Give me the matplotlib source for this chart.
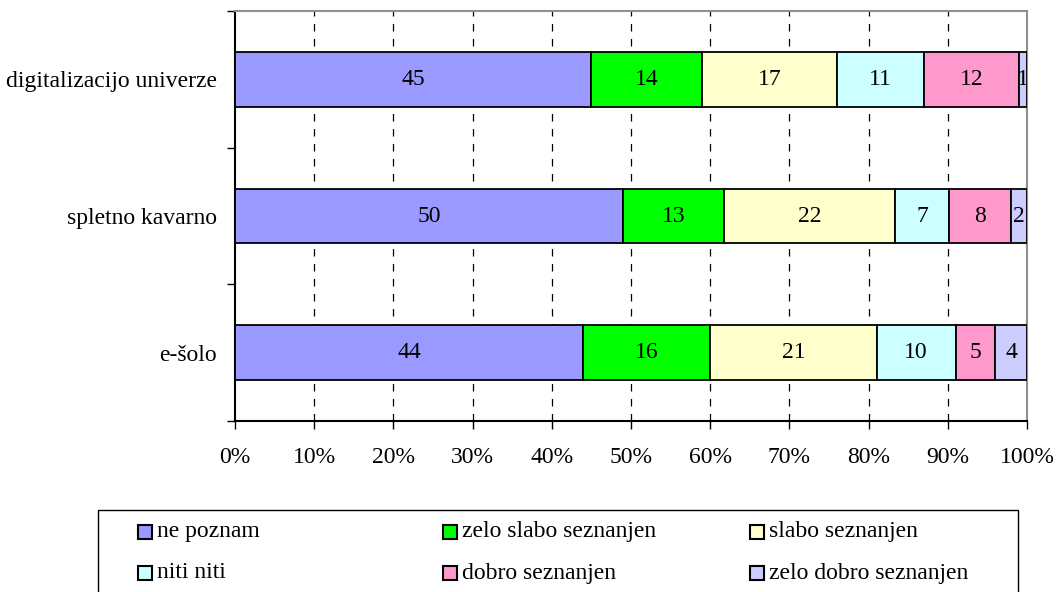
import numpy as np
import matplotlib
matplotlib.use('Agg')
from matplotlib import pyplot as plt
from matplotlib.patches import Rectangle

plt.rcParams['font.family'] = ['Liberation Serif', 'DejaVu Serif']
plt.rcParams['font.size'] = 17

# categories bottom -> top
categories = ['e-šolo', 'spletno kavarno', 'digitalizacijo univerze']
series = ['ne poznam', 'zelo slabo seznanjen', 'slabo seznanjen',
          'niti niti', 'dobro seznanjen', 'zelo dobro seznanjen']
values = [
    [44, 50, 45],   # ne poznam
    [16, 13, 14],   # zelo slabo seznanjen
    [21, 22, 17],   # slabo seznanjen
    [10, 7, 11],    # niti niti
    [5, 8, 12],     # dobro seznanjen
    [4, 2, 1],      # zelo dobro seznanjen
]
colors = ['#9999FF', '#00FF00', '#FFFFCC', '#CCFFFF', '#FF99CC', '#CCCCFF']

data = np.array(values, dtype=float)
totals = data.sum(axis=0)
shares = data / totals * 100

W, H = 1060, 592
fig = plt.figure(figsize=(W/100, H/100), dpi=100)
ax = fig.add_axes([235/W, 1 - 421/H, (1027-235)/W, (421-11)/H])

y = np.arange(len(categories))
left = np.zeros(len(categories))
for i in range(len(series)):
    bars = ax.barh(y, shares[i], left=left, height=0.4, color=colors[i],
                   edgecolor='black', linewidth=1.3, zorder=3)
    ax.bar_label(bars, labels=[str(int(v)) for v in values[i]], label_type='center',
                 fontsize=17, zorder=4)
    left += shares[i]

ax.set_xlim(0, 100)
ax.set_ylim(-0.5, 2.5)
ax.set_xticks(np.arange(0, 101, 10))
ax.set_xticklabels([f'{t}%' for t in range(0, 101, 10)])
ax.set_yticks([-0.5, 0.5, 1.5, 2.5])
ax.set_yticklabels([])
ax.set_yticks(y, minor=True)
ax.set_yticklabels(categories, minor=True)
ax.tick_params(axis='y', which='minor', length=0, pad=13)
ax.tick_params(axis='y', which='major', length=6, width=1, direction='out')
ax.tick_params(axis='x', length=6, width=1, direction='out', pad=13)
ax.get_yticklines()[-2].set_color('#909090')

for x in range(10, 100, 10):
    ax.axvline(x, color='black', linewidth=0.9, linestyle=(0, (6, 6)), zorder=1)

for s in ['left', 'bottom']:
    ax.spines[s].set_color('black')
    ax.spines[s].set_linewidth(1.5)
for s in ['top', 'right']:
    ax.spines[s].set_color('#909090')
    ax.spines[s].set_linewidth(1.5)

# legend: 3 equal columns, filled row by row (drawn by hand, like Excel does)
fig.patches.append(Rectangle((98/W, -6/H), 920/W, (592-510+6)/H, transform=fig.transFigure,
                             facecolor='white', edgecolor='black', linewidth=1, zorder=0))
col_x = [138, 443, 750]
row_y = [532, 573]
for k, name in enumerate(series):
    cx = col_x[k % 3]
    cy = row_y[k // 3]
    fig.patches.append(Rectangle((cx/W, 1 - (cy + 7)/H), 14/W, 14/H, transform=fig.transFigure,
                                 facecolor=colors[k], edgecolor='black', linewidth=1.5, zorder=2))
    fig.text((cx + 19)/W, 1 - cy/H, name, ha='left', va='center', fontsize=17)

fig.savefig('out.png', dpi=100)
